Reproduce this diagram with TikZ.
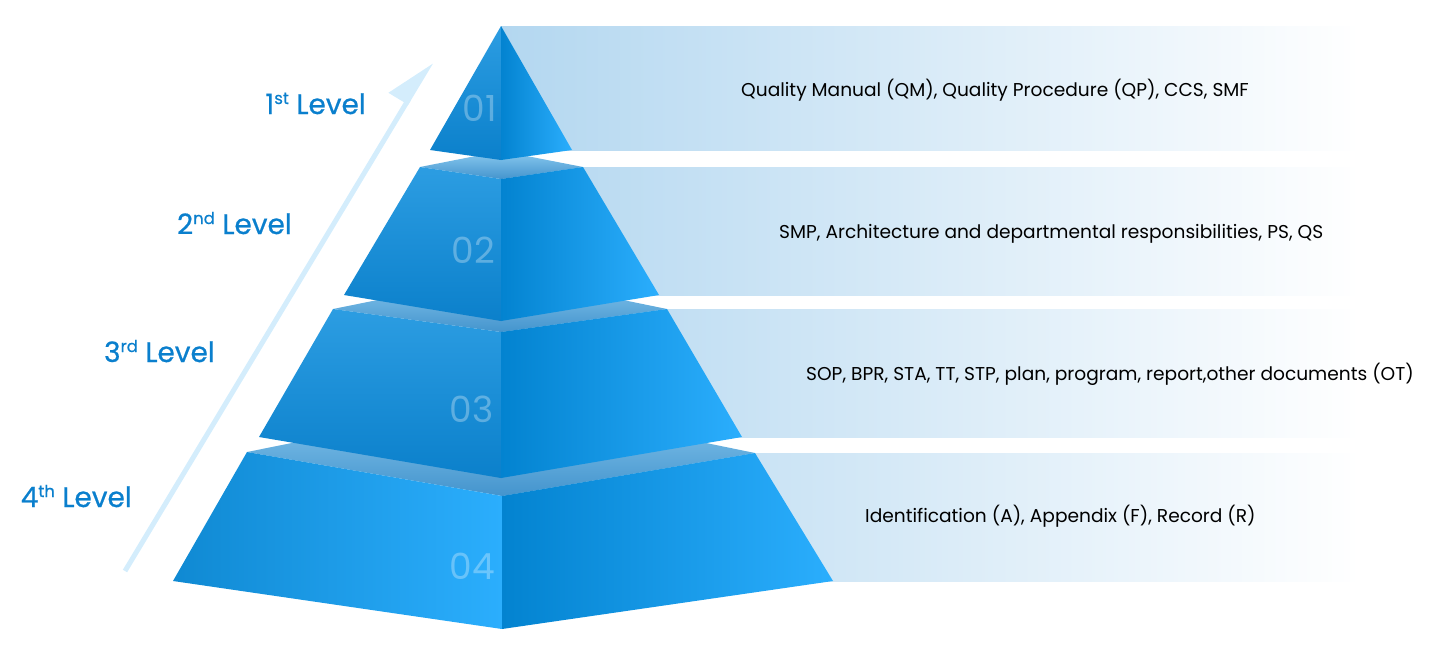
\documentclass[tikz,border=0pt]{standalone}
\usepackage{fontspec}
\setmainfont{Poppins}
\newfontfamily\levelfont{Poppins}[FakeBold=0.6]
\usetikzlibrary{arrows.meta,calc}
\definecolor{LevelBlue}{HTML}{0A7FCD}
\definecolor{ArrowBlue}{HTML}{D4EDFC}
\definecolor{BandBlue}{HTML}{B3D7F0}
\definecolor{FaceDark}{HTML}{0383D0}
\definecolor{FaceBright}{HTML}{2BAEFD}
\definecolor{FaceTop}{HTML}{2C9DE2}
\definecolor{FaceLow}{HTML}{0B80CB}
\definecolor{CapLight}{HTML}{8ACAF0}
\definecolor{CapDark}{HTML}{4494CD}
\newcommand\lvsup[1]{\raisebox{10pt}{\fontsize{16.5}{16.5}\selectfont #1}}

\tikzset{
  band/.style={left color=BandBlue, right color=white},
  leftface/.style={top color=FaceTop, bottom color=FaceLow},
  baseface/.style={left color=FaceDark!95!white, right color=FaceBright},
  rightface/.style={left color=FaceDark, right color=FaceBright},
  capface/.style={top color=CapLight, bottom color=CapDark},
  levelarrow/.style={ArrowBlue, line width=5pt, -{Triangle[harpoon, length=43pt, width=40pt]}},
  levellabel/.style={text=LevelBlue, font=\levelfont\fontsize{28}{30}\selectfont, anchor=base east, inner sep=0pt},
  tiernum/.style={text=white, text opacity=0.3, font=\fontsize{36}{40}\selectfont, anchor=east, inner sep=0pt},
  doclabel/.style={font=\fontsize{18.6}{20}\selectfont, anchor=base west, inner sep=0pt}
}

\begin{document}
\begin{tikzpicture}[x=1pt, y=-1pt]
    \useasboundingbox (0,0) rectangle (1440,649);

    \shade[band] (501,26) rectangle (1360,150);
    \shade[band] (501,167) rectangle (1360,295);
    \shade[band] (501,309) rectangle (1360,437);
    \shade[band] (501,453) rectangle (1360,581);

    \coordinate (arrowfoot) at (125,571);
    \coordinate (arrowtip) at (431,62);
    \draw[levelarrow] (arrowfoot) -- (arrowtip);

    \coordinate (L4) at (247,452);
    \coordinate (B4) at (501,401);
    \coordinate (R4) at (755,453);
    \coordinate (F4) at (502,496);
    \coordinate (l4) at (173,581);
    \coordinate (f4) at (502,629);
    \coordinate (r4) at (833,581);
    \shade[capface] (L4) -- (B4) -- (R4) -- (F4) -- cycle;
    \shade[baseface] (L4) -- (l4) -- (f4) -- (F4) -- cycle;
    \shade[rightface] (F4) -- (f4) -- (r4) -- (R4) -- cycle;

    \coordinate (L3) at (333,309);
    \coordinate (B3) at (501,275);
    \coordinate (R3) at (667,309);
    \coordinate (F3) at (501,332);
    \coordinate (l3) at (259,437);
    \coordinate (f3) at (501,478);
    \coordinate (r3) at (742,437);
    \shade[capface] (L3) -- (B3) -- (R3) -- (F3) -- cycle;
    \shade[leftface] (L3) -- (l3) -- (f3) -- (F3) -- cycle;
    \shade[rightface] (F3) -- (f3) -- (r3) -- (R3) -- cycle;

    \coordinate (L2) at (420,167);
    \coordinate (B2) at (501,151);
    \coordinate (R2) at (583,167);
    \coordinate (F2) at (501,179);
    \coordinate (l2) at (344,295);
    \coordinate (f2) at (501,321);
    \coordinate (r2) at (659,295);
    \shade[capface] (L2) -- (B2) -- (R2) -- (F2) -- cycle;
    \shade[leftface] (L2) -- (l2) -- (f2) -- (F2) -- cycle;
    \shade[rightface] (F2) -- (f2) -- (r2) -- (R2) -- cycle;

    \coordinate (apex) at (501,26);
    \coordinate (l1) at (430,150);
    \coordinate (f1) at (501,160);
    \coordinate (r1) at (572,150);
    \shade[leftface] (apex) -- (l1) -- (f1) -- cycle;
    \shade[rightface] (apex) -- (f1) -- (r1) -- cycle;

    \node[tiernum] (num1) at (497,108) {01};
    \node[tiernum] (num2) at (495,250) {02};
    \node[tiernum] (num3) at (494,409) {03};
    \node[tiernum] (num4) at (495,566) {04};

    \node[levellabel] (lvl1) at (366,114) {1\lvsup{st} Level};
    \node[levellabel] (lvl2) at (292,234) {2\lvsup{nd} Level};
    \node[levellabel] (lvl3) at (215,362) {3\lvsup{rd} Level};
    \node[levellabel] (lvl4) at (132,507) {4\lvsup{th} Level};

    \node[doclabel] (qm) at (741,96) {Quality Manual (QM), Quality Procedure (QP), CCS, SMF};
    \node[doclabel] (smp) at (779,238) {SMP, Architecture and departmental responsibilities, PS, QS};
    \node[doclabel] (sop) at (806,380) {SOP, BPR, STA, TT, STP, plan, program, report,other documents (OT)};
    \node[doclabel] (ident) at (865,522) {Identification (A), Appendix (F), Record (R)};
\end{tikzpicture}
\end{document}
